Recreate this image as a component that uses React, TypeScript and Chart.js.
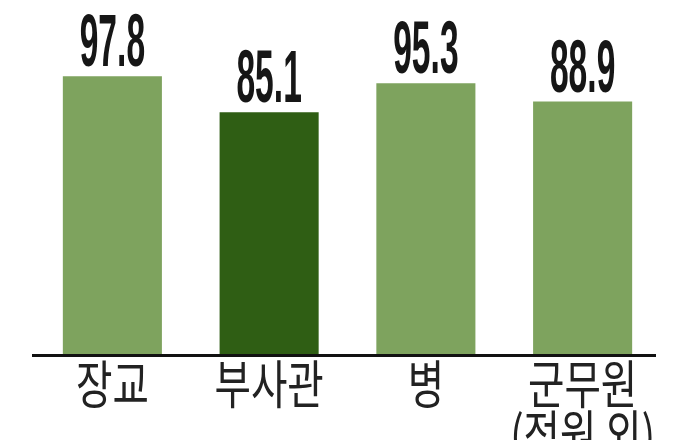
import React, { useEffect, useRef } from "react";
import { Chart, registerables } from "chart.js";

Chart.register(...registerables);

const categories: string[][] = [["장교"], ["부사관"], ["병"], ["군무원", "(정원 외)"]];
const values: number[] = [97.8, 85.1, 95.3, 88.9];
const valueLabels: string[] = ["97.8", "85.1", "95.3", "88.9"];
const barColors: string[] = ["#7ea35e", "#2f5e14", "#7ea35e", "#7ea35e"];

const labelPlugin = {
  id: "customLabels",
  afterDraw(chart: any) {
    const ctx = chart.ctx as CanvasRenderingContext2D;
    const meta = chart.getDatasetMeta(0);
    const xScale = chart.scales.x;
    const bottom = chart.chartArea.bottom;
    ctx.save();
    // axis line
    ctx.fillStyle = "#111";
    ctx.fillRect(32, bottom, 624, 3);
    // value labels
    ctx.fillStyle = "#161616";
    ctx.font = "bold 60px 'Liberation Sans', Arial, sans-serif";
    ctx.textAlign = "center";
    ctx.textBaseline = "alphabetic";
    meta.data.forEach((bar: any, i: number) => {
      ctx.save();
      ctx.translate(bar.x, bar.y - 10);
      ctx.scale(0.56, 1.22);
      ctx.fillText(valueLabels[i], 0, 0);
      ctx.restore();
    });
    // category labels
    ctx.fillStyle = "#222";
    ctx.font = "44px 'Noto Sans CJK KR', sans-serif";
    ctx.textBaseline = "top";
    categories.forEach((lines, i) => {
      const x = xScale.getPixelForValue(i);
      lines.forEach((line, j) => {
        ctx.save();
        ctx.translate(x, bottom + 4 + j * 50);
        ctx.scale(0.9, 1.2);
        ctx.fillText(line, 0, 0);
        ctx.restore();
      });
    });
    ctx.restore();
  },
};

export default function App() {
  const ref = useRef<HTMLCanvasElement | null>(null);
  useEffect(() => {
    document.body.style.margin = "0";
    const canvas = ref.current;
    if (!canvas) return;
    const chart = new Chart(canvas, {
      type: "bar",
      data: {
        labels: categories.map((c) => c.join(" ")),
        datasets: [
          {
            data: values,
            backgroundColor: barColors,
            borderWidth: 0,
            barPercentage: 0.632,
            categoryPercentage: 1,
          },
        ],
      },
      options: {
        responsive: false,
        animation: false,
        maintainAspectRatio: false,
        layout: { padding: { left: 34, right: 25, top: 70, bottom: 86 } },
        plugins: { legend: { display: false }, tooltip: { enabled: false } },
        scales: {
          x: { display: false },
          y: { display: false, min: 0, max: 100 },
        },
      },
      plugins: [labelPlugin],
    });
    return () => chart.destroy();
  }, []);
  return (
    <div style={{ width: 686, height: 440, background: "#fff" }}>
      <canvas ref={ref} width={686} height={440} style={{ display: "block" }} />
    </div>
  );
}
